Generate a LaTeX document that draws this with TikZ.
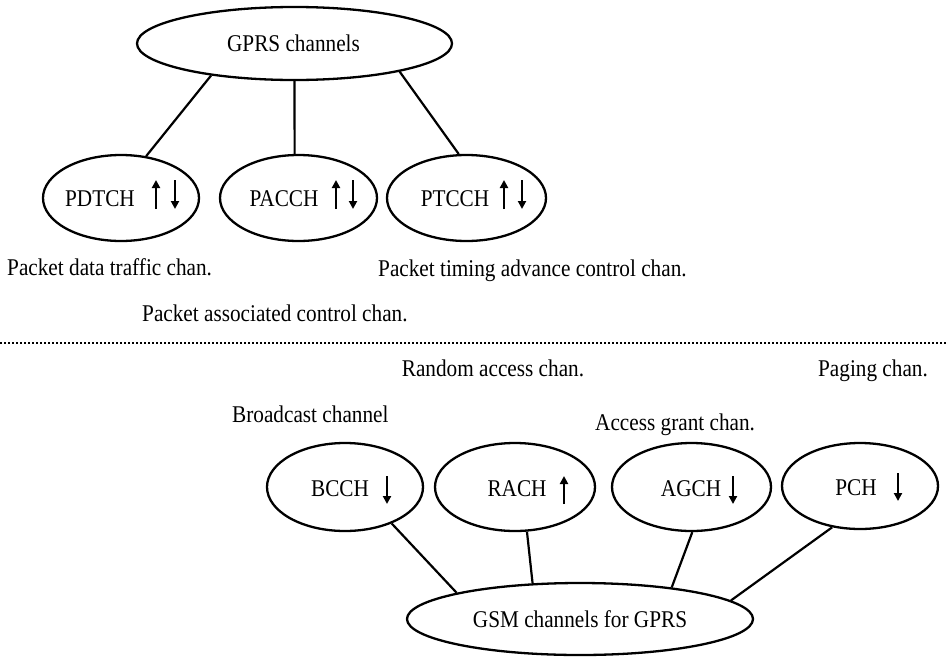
\documentclass[tikz,border=0pt]{standalone}
\usepackage{fontspec}
\setmainfont{Liberation Serif}[FakeStretch=0.885]
\usetikzlibrary{shapes.geometric,arrows.meta,calc}
\begin{document}
\begin{tikzpicture}[x=1pt,y=-1pt,
  chan/.style={ellipse,draw,line width=2.3pt,inner sep=0pt},
  lbl/.style={inner sep=0pt,font=\fontsize{24}{27}\selectfont},
  conn/.style={line width=2.2pt},
  updn/.style={line width=2.8pt,-{Triangle[length=8pt,width=8pt]}}
]
\useasboundingbox (0,0) rectangle (947,656);

% GPRS part
\node[chan,minimum width=315pt,minimum height=73pt] (gprs) at (294.5,43.5) {};
\node[lbl] (gprst) at (293.5,43.5) {GPRS channels};

\node[chan,minimum width=156pt,minimum height=86pt] (pdtch) at (121,198) {};
\node[chan,minimum width=157pt,minimum height=86pt] (pacch) at (298.5,198) {};
\node[chan,minimum width=159pt,minimum height=86pt] (ptcch) at (466.5,198) {};
\node[lbl] (pdtcht) at (100,199) {PDTCH};
\node[lbl] (paccht) at (284,199) {PACCH};
\node[lbl] (ptccht) at (455,199) {PTCCH};

\coordinate (pdu1) at (156,209); \coordinate (pdu2) at (156,180);
\coordinate (pdd1) at (175,180); \coordinate (pdd2) at (175,209);
\coordinate (pau1) at (336,209); \coordinate (pau2) at (336,180);
\coordinate (pad1) at (353,180); \coordinate (pad2) at (353,209);
\coordinate (ptu1) at (504,209); \coordinate (ptu2) at (504,180);
\coordinate (ptd1) at (522,180); \coordinate (ptd2) at (522,209);
\draw[updn] (pdu1) -- (pdu2);
\draw[updn] (pdd1) -- (pdd2);
\draw[updn] (pau1) -- (pau2);
\draw[updn] (pad1) -- (pad2);
\draw[updn] (ptu1) -- (ptu2);
\draw[updn] (ptd1) -- (ptd2);

\draw[conn] (gprs.201.4) -- (pdtch.59);
\draw[conn] (gprs.-90) -- (pacch.95);
\draw[conn] (gprs.-15.3) -- (ptcch.100.5);

\node[lbl,anchor=base west] (l1) at (7,275) {Packet data traffic chan.};
\node[lbl,anchor=base west] (l2) at (378,276) {Packet timing advance control chan.};
\node[lbl,anchor=base west] (l3) at (142,321) {Packet associated control chan.};

% separator
\coordinate (sepl) at (0,343);
\coordinate (sepr) at (947,343);
\draw[line width=2.2pt,dash pattern=on 1.8pt off 2.2pt] (sepl) -- (sepr);

% GSM part
\node[lbl,anchor=base] (l4) at (493,376) {Random access chan.};
\node[lbl,anchor=base] (l5) at (873,376) {Paging chan.};
\node[lbl,anchor=base west] (l6) at (232,422) {Broadcast channel};
\node[lbl,anchor=base west] (l7) at (595,430) {Access grant chan.};

\node[chan,minimum width=156pt,minimum height=88pt] (bcch) at (345,487) {};
\node[chan,minimum width=160pt,minimum height=88pt] (rach) at (515,487) {};
\node[chan,minimum width=159pt,minimum height=88pt] (agch) at (691.5,487) {};
\node[chan,minimum width=156pt,minimum height=86pt] (pch) at (860,486) {};
\node[lbl] (bccht) at (340,489) {BCCH};
\node[lbl] (racht) at (517,489) {RACH};
\node[lbl] (agcht) at (691,489) {AGCH};
\node[lbl] (pcht) at (856,488) {PCH};

\coordinate (bd1) at (387,476); \coordinate (bd2) at (387,504);
\coordinate (ru1) at (564,504); \coordinate (ru2) at (564,476);
\coordinate (ad1) at (733,476); \coordinate (ad2) at (733,504);
\coordinate (pd1) at (898,473); \coordinate (pd2) at (898,501);
\draw[updn] (bd1) -- (bd2);
\draw[updn] (ru1) -- (ru2);
\draw[updn] (ad1) -- (ad2);
\draw[updn] (pd1) -- (pd2);

\node[chan,minimum width=346pt,minimum height=72pt] (gsm) at (580,619) {};
\node[lbl] (gsmt) at (580,619) {GSM channels for GPRS};

\draw[conn] (bcch.-38.7) -- (gsm.168.5);
\draw[conn] (rach.-75) -- (gsm.143);
\draw[conn] (agch.-89) -- (gsm.19.6);
\draw[conn] (pch.-124) -- (gsm.7.5);
\end{tikzpicture}
\end{document}
